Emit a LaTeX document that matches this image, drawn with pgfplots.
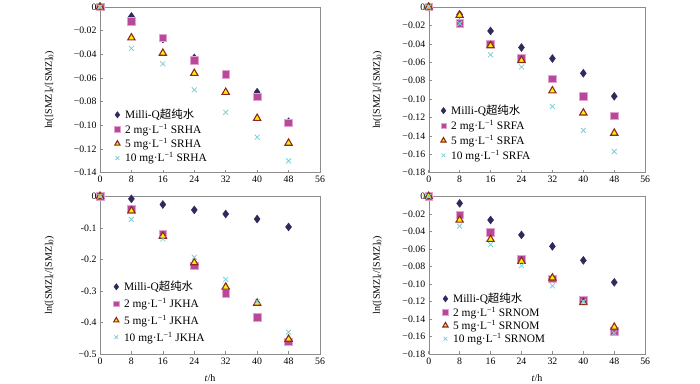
\documentclass[border=0pt]{standalone}
\usepackage{fontspec}
\setmainfont{Liberation Serif}
\newfontfamily\cjk{Noto Sans CJK SC}
\usepackage{pgfplots}
\pgfplotsset{compat=1.18}

\definecolor{cdia}{HTML}{2E2A5C}
\definecolor{csq}{HTML}{B8489A}
\definecolor{csqe}{HTML}{E3A3D0}
\definecolor{ctri}{HTML}{FFF200}
\definecolor{ctrie}{HTML}{8E2A1B}
\definecolor{ccross}{HTML}{7ECFD6}
\definecolor{caxis}{HTML}{8C8C8C}

\pgfplotsset{
  panel/.style={scale only axis, width=220pt, height=165.7pt,
    xmin=0, xmax=56, xtick={0,8,...,56},
    axis line style={caxis}, tick style={caxis, line width=0.5pt},
    tick align=inside, xtick pos=bottom, ytick pos=left, major tick length=3pt,
    ticklabel style={font=\fontsize{9.8}{11}\selectfont},
    xticklabel style={/pgf/number format/assume math mode=true},
    ylabel={ln([SMZ]\textsubscript{\textit{t}}/[SMZ]\textsubscript{0})},
    ylabel style={font=\fontsize{10}{11}\selectfont, at={(axis description cs:-0.23,0.5)}, anchor=center},
    xlabel style={font=\fontsize{10}{11}\selectfont, at={(axis description cs:0.5,0)}, anchor=center, yshift=-24pt},
    legend style={draw=none, fill=none, font=\fontsize{11.4}{12}\selectfont, anchor=north west, inner sep=0pt,
      nodes={inner xsep=2pt, inner ysep=1pt},
      /tikz/every odd column/.append style={column sep=3pt}},
    legend cell align=left,
    clip=false},
  s1/.style={only marks, mark=diamond*, mark size=4pt, color=cdia,
    legend image code/.code={\draw[mark repeat=1,mark phase=1,##1,mark size=3.2pt] plot coordinates {(0.15cm,0cm)};}},
  s2/.style={only marks, mark=square*, mark size=3.8pt, mark options={fill=csq, draw=csqe, line width=0.6pt},
    legend image code/.code={\draw[mark repeat=1,mark phase=1,##1,mark size=2.7pt] plot coordinates {(0.15cm,0cm)};}},
  s3/.style={only marks, mark=triangle*, mark size=4.2pt, mark options={fill=ctri, draw=ctrie, line width=1.1pt},
    legend image code/.code={\draw[mark repeat=1,mark phase=1,##1,mark size=3pt,line width=0.8pt] plot coordinates {(0.15cm,0cm)};}},
  s4/.style={only marks, mark=x, mark size=3.5pt, mark options={draw=ccross, line width=0.8pt},
    legend image code/.code={\draw[mark repeat=1,mark phase=1,##1,mark size=2.7pt] plot coordinates {(0.15cm,0cm)};}},
}

\begin{document}
\begin{tikzpicture}
\useasboundingbox (0,0) rectangle (700pt,383pt);

% Panel 1: SRHA
\begin{axis}[panel, at={(100pt,210.3pt)}, anchor=south west,
  ymin=-0.14, ymax=0, ytick={-0.14,-0.12,...,0.001},
  yticklabels={−0.14,−0.12,−0.10,−0.08,−0.06,−0.04,−0.02,0},
  legend style={at={(axis description cs:0.066,0.39)}, row sep=1.6pt}]
\addplot[s1] coordinates {(0,0) (8,-0.008) (16,-0.027) (24,-0.043) (32,-0.057) (40,-0.072) (48,-0.097)};
\addplot[s2] coordinates {(0,0) (8,-0.012) (16,-0.026) (24,-0.045) (32,-0.057) (40,-0.076) (48,-0.098)};
\addplot[s3] coordinates {(0,0) (8,-0.026) (16,-0.039) (24,-0.056) (32,-0.072) (40,-0.094) (48,-0.115)};
\addplot[s4] coordinates {(0,0) (8,-0.035) (16,-0.048) (24,-0.070) (32,-0.089) (40,-0.110) (48,-0.130)};
\legend{Milli-Q{\cjk 超纯水}, 2 mg·L\textsuperscript{−1} SRHA, 5 mg·L\textsuperscript{−1} SRHA, 10 mg·L\textsuperscript{−1} SRHA}
\end{axis}

% Panel 2: SRFA
\begin{axis}[panel, at={(428.7pt,210.3pt)}, anchor=south west, width=216.5pt,
  ymin=-0.18, ymax=0, ytick={-0.18,-0.16,...,0.001},
  yticklabels={−0.18,−0.16,−0.14,−0.12,−0.10,−0.08,−0.06,−0.04,−0.02,0},
  ylabel style={at={(axis description cs:-0.237,0.5)}},
  legend style={at={(axis description cs:0.055,0.415)}, row sep=2.1pt}]
\addplot[s1] coordinates {(0,0) (8,-0.008) (16,-0.026) (24,-0.044) (32,-0.056) (40,-0.072) (48,-0.097)};
\addplot[s2] coordinates {(0,0) (8,-0.018) (16,-0.040) (24,-0.056) (32,-0.078) (40,-0.097) (48,-0.118)};
\addplot[s3] coordinates {(0,0) (8,-0.009) (16,-0.042) (24,-0.058) (32,-0.091) (40,-0.115) (48,-0.137)};
\addplot[s4] coordinates {(0,0) (8,-0.018) (16,-0.052) (24,-0.065) (32,-0.108) (40,-0.134) (48,-0.157)};
\legend{Milli-Q{\cjk 超纯水}, 2 mg·L\textsuperscript{−1} SRFA, 5 mg·L\textsuperscript{−1} SRFA, 10 mg·L\textsuperscript{−1} SRFA}
\end{axis}

% Panel 3: JKHA
\begin{axis}[panel, at={(100pt,28.7pt)}, anchor=south west, height=158pt,
  ymin=-0.5, ymax=0, ytick={-0.5,-0.4,...,0.001},
  yticklabels={−0.5,-0.4,-0.3,-0.2,-0.1,0},
  xlabel={\textit{t}/h},
  legend style={at={(axis description cs:0.061,0.47)}, row sep=4pt}]
\addplot[s1] coordinates {(0,0) (8,-0.008) (16,-0.026) (24,-0.043) (32,-0.056) (40,-0.072) (48,-0.097)};
\addplot[s2] coordinates {(0,0) (8,-0.041) (16,-0.120) (24,-0.220) (32,-0.307) (40,-0.382) (48,-0.460)};
\addplot[s3] coordinates {(0,0) (8,-0.046) (16,-0.126) (24,-0.210) (32,-0.287) (40,-0.338) (48,-0.452)};
\addplot[s4] coordinates {(0,0) (8,-0.073) (16,-0.135) (24,-0.193) (32,-0.263) (40,-0.333) (48,-0.430)};
\legend{Milli-Q{\cjk 超纯水}, 2 mg·L\textsuperscript{−1} JKHA, 5 mg·L\textsuperscript{−1} JKHA, 10 mg·L\textsuperscript{−1} JKHA}
\end{axis}

% Panel 4: SRNOM
\begin{axis}[panel, at={(428.7pt,28.7pt)}, anchor=south west, width=216.5pt, height=158pt,
  ymin=-0.18, ymax=0, ytick={-0.18,-0.16,...,0.001},
  yticklabels={−0.18,−0.16,−0.14,−0.12,−0.10,−0.08,−0.06,−0.04,−0.02,0},
  ylabel style={at={(axis description cs:-0.237,0.5)}},
  xlabel={\textit{t}/h},
  legend style={at={(axis description cs:0.064,0.394)}, row sep=0.5pt}]
\addplot[s1] coordinates {(0,0) (8,-0.008) (16,-0.027) (24,-0.044) (32,-0.057) (40,-0.073) (48,-0.098)};
\addplot[s2] coordinates {(0,0) (8,-0.021) (16,-0.041) (24,-0.071) (32,-0.094) (40,-0.118) (48,-0.154)};
\addplot[s3] coordinates {(0,0) (8,-0.027) (16,-0.049) (24,-0.074) (32,-0.093) (40,-0.121) (48,-0.149)};
\addplot[s4] coordinates {(0,0) (8,-0.034) (16,-0.055) (24,-0.079) (32,-0.102) (40,-0.120) (48,-0.156)};
\legend{Milli-Q{\cjk 超纯水}, 2 mg·L\textsuperscript{−1} SRNOM, 5 mg·L\textsuperscript{−1} SRNOM, 10 mg·L\textsuperscript{−1} SRNOM}
\end{axis}
\end{tikzpicture}
\end{document}
